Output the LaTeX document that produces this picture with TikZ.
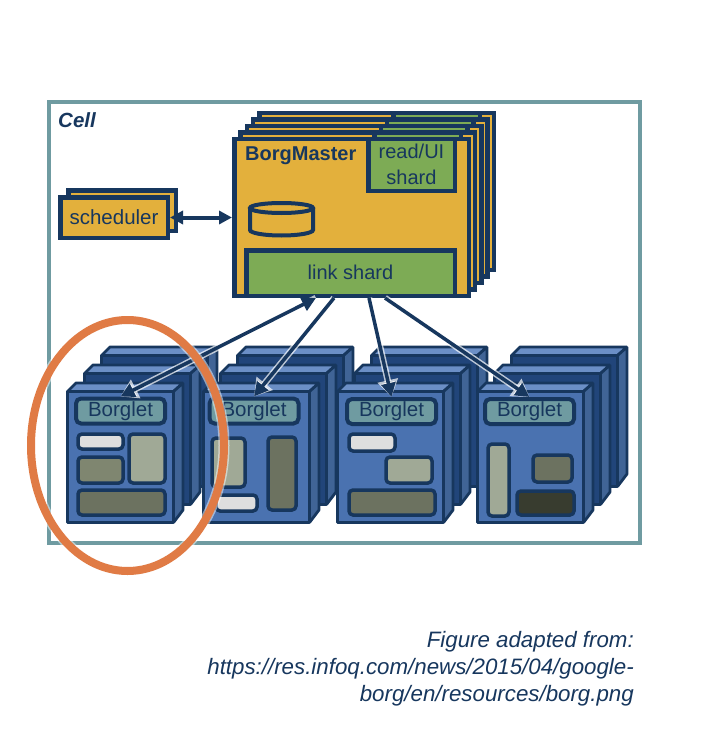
\documentclass[tikz,border=0pt]{standalone}
\usepackage{fontspec}
\setmainfont{Liberation Sans}
\usetikzlibrary{arrows.meta,shapes.geometric}

\definecolor{inkblue}{HTML}{17375E}
\definecolor{frameteal}{HTML}{6F9BA1}
\definecolor{masterorange}{HTML}{E3B03C}
\definecolor{shardgreen}{HTML}{7DAB55}
\definecolor{cubefront}{HTML}{4A72B0}
\definecolor{cubeback}{HTML}{21457A}
\definecolor{cubetop}{HTML}{6B8FC6}
\definecolor{cubeside}{HTML}{406496}
\definecolor{slotwhite}{HTML}{DEDEDE}
\definecolor{slottan}{HTML}{A0A996}
\definecolor{slotolive}{HTML}{7F8670}
\definecolor{slotdark}{HTML}{6C7260}
\definecolor{slotblack}{HTML}{383C2F}
\definecolor{circleorange}{HTML}{E07B45}

\tikzset{
  wire/.style={draw=inkblue, line width=4.5pt, line join=miter},
  masterbox/.style={wire, fill=masterorange},
  shard/.style={wire, fill=shardgreen, text=inkblue, font=\fontsize{20}{24}\selectfont, align=center, inner sep=0pt},
  borglet/.style={draw=inkblue, line width=4pt, rounded corners=5pt, fill=frameteal, text=inkblue, font=\fontsize{20.5}{24}\selectfont, inner sep=0pt, minimum width=89pt, minimum height=25pt},
  slot/.style={draw=inkblue, line width=3.5pt, rounded corners=4pt},
  cubeface/.style={draw=inkblue, line width=2.8pt, line join=bevel},
  link/.style={draw=inkblue, line width=3.5pt, -{Triangle[length=14pt,width=14pt]},
    preaction={draw=white, draw opacity=0.7, line width=6.5pt, -{Triangle[length=17pt,width=20pt]}}},
  linkboth/.style={draw=inkblue, line width=4pt, {Triangle[length=13pt,width=13pt]}-{Triangle[length=13pt,width=13pt]}},
  plain/.style={text=inkblue, inner sep=0pt}
}

\newcommand{\borgcube}[3]{%
  \begin{scope}[shift={(#1,#2)}]
    \draw[cubeface, fill=cubetop] (1.5,391.5) -- (10,383) -- (117,383) -- (107.5,391.5) -- cycle;
    \draw[cubeface, fill=cubeside] (107.5,391.5) -- (117,383) -- (117,510) -- (107.5,522.5) -- cycle;
    \draw[cubeface, fill=#3] (1.5,391.5) rectangle (107.5,522.5);
  \end{scope}}

\begin{document}
\begin{tikzpicture}[x=1pt,y=-1pt]
	\useasboundingbox (0,0) rectangle (704,730);
	\fill[white] (0,0) rectangle (704,730);
	\draw[draw=frameteal, line width=4pt] (49,102) rectangle (640,543);
	\node[plain, anchor=west, font=\fontsize{20.5}{24}\selectfont\bfseries\itshape] (celltitle) at (58,120) {Cell};

	% scheduler
	\draw[masterbox] (68.25,190.25) rectangle (175.75,230.75);
	\node[masterbox, text=inkblue, inner sep=0pt, minimum width=107.5pt, minimum height=40.5pt, font=\fontsize{20.5}{24}\selectfont] (sched) at (114,217.5) {scheduler};

	% master replicas, back to front
	\foreach \r in {4,3,2,1} {
		\begin{scope}[shift={(6.3*\r,-6.5*\r)}]
			\draw[masterbox] (234.25,139.25) rectangle (468.75,295.75);
			\draw[wire, fill=shardgreen] (368.25,139.25) rectangle (454.75,190.75);
		\end{scope}
	}
	\node[masterbox, minimum width=234.5pt, minimum height=156.5pt, inner sep=0pt] (master) at (351.5,217.5) {};
	\node[plain, anchor=west, font=\fontsize{20}{24}\selectfont\bfseries] (mastertitle) at (245,156) {BorgMaster};
	\node[shard, minimum width=86.5pt, minimum height=51.5pt] (readui) at (411.5,165) {\raisebox{3pt}{read/UI}\\[1pt]\raisebox{2pt}{shard}};
	\node[shard, minimum width=208.5pt, minimum height=45.5pt] (linkshard) at (350.5,273) {\raisebox{2pt}{link shard}};

	% replicated store
	\draw[draw=inkblue, line width=4pt, fill=masterorange] (250,208) -- (250,230) .. controls (250,233) and (264,235.5) .. (281.5,235.5) .. controls (299,235.5) and (313,233) .. (313,230) -- (313,208);
	\draw[draw=inkblue, line width=4pt, fill=masterorange] (281.5,208) ellipse [x radius=31.5, y radius=5];

	% machines
	\foreach \cx in {66,202,336,476} {
		\foreach \d/\tone in {2/cubeback,1/cubeback,0/cubefront} {
			\borgcube{\cx+17*\d}{-18*\d}{\tone}
		}
	}
	\node[borglet] (bl1) at (120.5,411) {Borglet};
	\node[borglet] (bl2) at (254,411) {Borglet};
	\node[borglet] (bl3) at (391.5,411.5) {Borglet};
	\node[borglet] (bl4) at (529.5,411.5) {Borglet};

	% tasks of each machine
	\draw[slot, fill=slotwhite] (78,434) rectangle (123,449);
	\draw[slot, fill=slottan] (129,434) rectangle (165,483);
	\draw[slot, fill=slotolive] (78,457) rectangle (123,483);
	\draw[slot, fill=slotdark] (78,490) rectangle (165,515);

	\draw[slot, fill=slottan] (212,438) rectangle (245,487);
	\draw[slot, fill=slotdark] (268,437) rectangle (296,510);
	\draw[slot, fill=slotwhite] (216,495) rectangle (257,511);

	\draw[slot, fill=slotwhite] (349,434) rectangle (395,451);
	\draw[slot, fill=slottan] (386,457) rectangle (432,483);
	\draw[slot, fill=slotdark] (349,490) rectangle (435,515);

	\draw[slot, fill=slottan] (488,444) rectangle (509,516);
	\draw[slot, fill=slotdark] (533,455) rectangle (572,482);
	\draw[slot, fill=slotblack] (517,491) rectangle (574,515);

	% links from the master to the machines
	\coordinate (t1) at (316,298);
	\coordinate (t2) at (334,298);
	\coordinate (t3) at (369,298);
	\coordinate (t4) at (385,298);
	\draw[link, {Triangle[length=14pt,width=14pt]}-{Triangle[length=14pt,width=14pt]}] (t1) -- (bl1.north);
	\draw[link] (t2) -- (bl2.north);
	\draw[link] (t3) -- (bl3.north);
	\draw[link] (t4) -- (bl4.north);

	% arrow to the scheduler
	\draw[linkboth] (sched.east) -- (master.west |- sched.east);

	% highlight
	\node[ellipse, draw=white, draw opacity=0.5, line width=11pt, minimum width=193pt, minimum height=251pt, inner sep=0pt] (ringglow) at (127.5,445.5) {};
	\node[ellipse, draw=circleorange, line width=8pt, minimum width=193pt, minimum height=251pt, inner sep=0pt] (ring) at (127.5,445.5) {};

	\node[plain, anchor=east, font=\fontsize{22.3}{27}\selectfont\itshape, text=inkblue] (cap1) at (634,642) {Figure adapted from:};
	\node[plain, anchor=east, font=\fontsize{22.3}{27}\selectfont\itshape, text=inkblue] (cap2) at (634,669) {https://res.infoq.com/news/2015/04/google-};
	\node[plain, anchor=east, font=\fontsize{22.3}{27}\selectfont\itshape, text=inkblue] (cap3) at (634,696) {borg/en/resources/borg.png};
\end{tikzpicture}
\end{document}
